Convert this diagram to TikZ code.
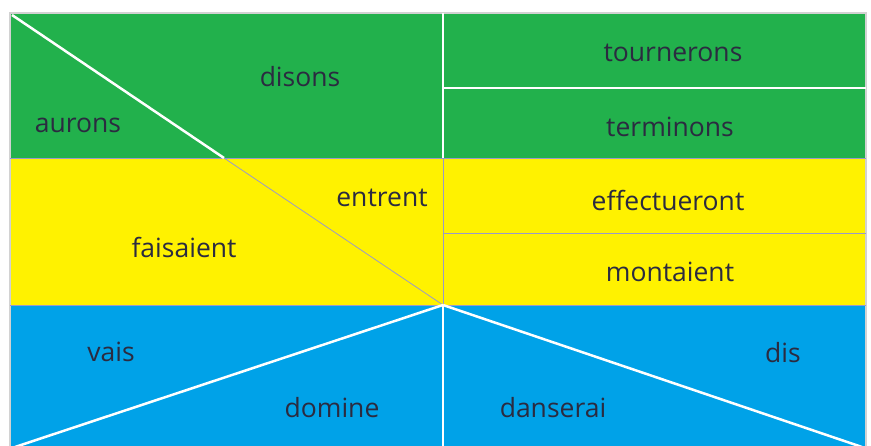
\documentclass[tikz,border=0pt]{standalone}
\usepackage{fontspec}
\setmainfont{Open Sans}
\definecolor{paintgreen}{HTML}{22B14C}
\definecolor{paintyellow}{HTML}{FFF200}
\definecolor{paintblue}{HTML}{00A2E8}
\definecolor{wordink}{HTML}{2B2B40}
\definecolor{pencilgrey}{HTML}{9A9AC8}
\begin{document}
\begin{tikzpicture}[x=1pt, y=-1pt, thick,
  word/.style={font=\fontsize{26.5}{30}\selectfont, text=wordink},
  chalk/.style={draw=white, line width=2.5pt},
  pencil/.style={draw=pencilgrey, line width=0.8pt}]
\useasboundingbox (0,0) rectangle (871,445);
\fill[paintgreen] (10,13) rectangle (866,158);
\fill[paintyellow] (10,158) rectangle (866,305);
\fill[paintblue] (10,305) rectangle (866,447);
\coordinate (corner) at (12,15);
\coordinate (cut) at (224,158);
\coordinate (centre) at (443,305);
\coordinate (lowleft) at (15,447);
\coordinate (lowright) at (862,447);
% grid
\draw[gray!35, line width=1.2pt] (10,13) rectangle (866,447);
\draw[pencil] (10,158) -- (866,158);
\draw[pencil] (10,305) -- (866,305);
\draw[chalk, line width=1.5pt] (443,13) -- (443,158);
\draw[pencil] (443,158) -- (443,305);
\draw[chalk, line width=1.5pt] (443,305) -- (443,447);
\draw[chalk, line width=1.8pt] (443,88) -- (866,88);
\draw[pencil] (443,233) -- (866,233);
% diagonals
\draw[chalk] (corner) -- (cut);
\draw[pencil] (cut) -- (centre);
\draw[chalk] (centre) -- (lowleft);
\draw[chalk] (centre) -- (lowright);
% words
\node[word] (disons) at (300,77) {disons};
\node[word] (aurons) at (78,125) {aurons};
\node[word] (tournerons) at (673,53) {tournerons};
\node[word] (terminons) at (670,127) {terminons};
\node[word] (entrent) at (382,198) {entrent};
\node[word] (faisaient) at (184,247) {faisaient};
\node[word] (effectueront) at (668,200) {effectueront};
\node[word] (montaient) at (670,272) {montaient};
\node[word] (vais) at (111,352) {vais};
\node[word] (domine) at (332,408) {domine};
\node[word] (dis) at (783,353) {dis};
\node[word] (danserai) at (553,408) {danserai};
\end{tikzpicture}
\end{document}
